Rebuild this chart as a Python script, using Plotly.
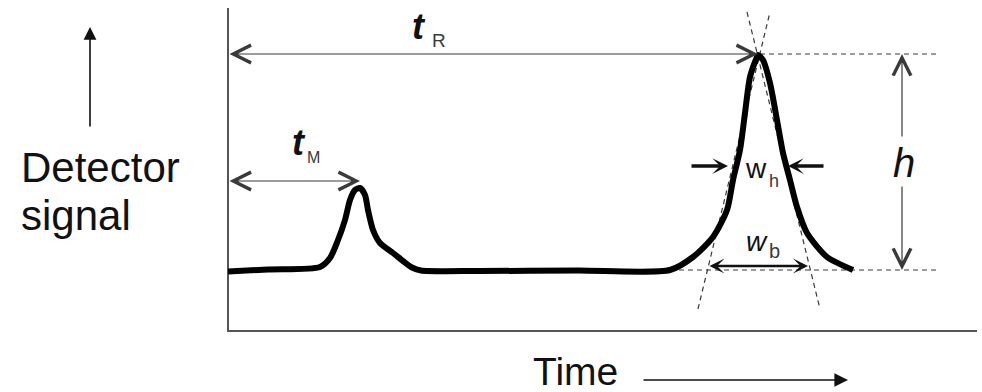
import plotly.graph_objects as go

# ---------------- data (time units / signal units, baseline = 0) ----------------
curve_time = [0.0, 4.0, 9.2, 10.2, 11.0, 11.7, 12.2, 12.7, 13.2, 13.7, 14.0, 14.5, 15.2,
              16.5, 17.5, 18.4, 19.3, 25.0, 35.0, 44.2,
              46.5, 48.5, 49.9, 50.5, 51.2, 51.7, 52.2, 52.9, 53.0, 53.5, 54.2, 54.9,
              55.5, 56.2, 56.9, 57.9, 59.9, 62.5]
curve_signal = [-0.15, 0.05, 0.3, 1.2, 3.0, 5.0, 7.0, 8.0, 8.2, 7.5, 6.0, 4.0, 2.7,
                1.7, 0.9, 0.25, -0.05, -0.1, -0.05, 0.0,
                1.3, 3.3, 6.0, 9.0, 12.0, 15.7, 19.3, 21.3, 21.5, 21.0, 18.7, 15.0,
                11.7, 9.0, 6.3, 3.7, 1.3, 0.0]

t_M = 13.2            # dead time (arrow tip)
t_M_arrow_y = 8.9
t_R = 53.0            # retention time
peak_h = 21.6         # peak height
w_h_y = 10.4          # half-height level
w_h_tips = [50.0, 56.0]
w_h_tails = [46.2, 59.7]
w_b_ends = [48.0, 58.0]
w_b_y = 0.4
tangent_left_x = [47.0, 54.2]
tangent_left_y = [-3.9, 25.8]
tangent_right_x = [51.9, 59.2]
tangent_right_y = [25.8, -3.9]
dash_start = [53.2, 44.2]
dash_levels = [peak_h, 0.0]
dash_end = 71.0
h_x = 67.4
h_gap = [13.2, 8.5]
axis_x = [0.0, 74.9]
axis_y = [-6.1, 26.2]
signal_arrow = [-13.8, 14.2, 24.3]   # x, tail y, head y
time_arrow = [41.4, 62.0, -11.0]     # tail x, head x, y

FONT = "Liberation Sans, Arial, Helvetica, sans-serif"
INK = "#111111"
GRAY = "#3a3a3a"

fig = go.Figure()

# axis frame
fig.add_trace(go.Scatter(x=[axis_x[0], axis_x[0], axis_x[1]], y=[axis_y[1], axis_y[0], axis_y[0]],
                         mode="lines", line=dict(color="#555555", width=2), hoverinfo="skip"))
# dashed reference lines
for xs, lv in zip(dash_start, dash_levels):
    fig.add_trace(go.Scatter(x=[xs, dash_end], y=[lv, lv], mode="lines",
                             line=dict(color=GRAY, width=1.2, dash="5px,4px"), hoverinfo="skip"))
# tangents
fig.add_trace(go.Scatter(x=tangent_left_x, y=tangent_left_y, mode="lines",
                         line=dict(color=GRAY, width=1.2, dash="5px,4px"), hoverinfo="skip"))
fig.add_trace(go.Scatter(x=tangent_right_x, y=tangent_right_y, mode="lines",
                         line=dict(color=GRAY, width=1.2, dash="5px,4px"), hoverinfo="skip"))
# chromatogram
fig.add_trace(go.Scatter(x=curve_time, y=curve_signal, mode="lines",
                         line=dict(color="#000000", width=6, shape="spline", smoothing=0.7),
                         hoverinfo="skip"))


def arrow(x0, y0, x1, y1, head, width, size, side="end", color=GRAY):
    return dict(x=x1, y=y1, ax=x0, ay=y0, xref="x", yref="y", axref="x", ayref="y",
                text="", showarrow=True, arrowhead=head, startarrowhead=head,
                arrowwidth=width, arrowsize=size, startarrowsize=size,
                arrowside=side, arrowcolor=color, standoff=0, startstandoff=0)


def label(x, y, text, size, color=INK, xanchor="left", yanchor="middle"):
    return dict(x=x, y=y, xref="x", yref="y", text=text, showarrow=False,
                xanchor=xanchor, yanchor=yanchor,
                font=dict(family=FONT, size=size, color=color))


ann = []
# t_R and t_M double arrows
ann.append(arrow(0.0, peak_h, t_R, peak_h, 5, 1.2, 2.9, "end+start"))
ann.append(arrow(0.0, t_M_arrow_y, t_M, t_M_arrow_y, 5, 1.2, 2.9, "end+start"))
# h arrows
ann.append(arrow(h_x, h_gap[0], h_x, peak_h, 5, 1.2, 2.9))
ann.append(arrow(h_x, h_gap[1], h_x, 0.0, 5, 1.2, 2.9))
# w_h arrows
ann.append(arrow(w_h_tails[0], w_h_y, w_h_tips[0], w_h_y, 3, 3.5, 0.75, color=INK))
ann.append(arrow(w_h_tails[1], w_h_y, w_h_tips[1], w_h_y, 3, 3.5, 0.75, color=INK))
# w_b double arrow
ann.append(arrow(w_b_ends[0], w_b_y, w_b_ends[1], w_b_y, 3, 2.5, 1.0, "end+start", color=INK))
# axis direction arrows
ann.append(arrow(signal_arrow[0], signal_arrow[1], signal_arrow[0], signal_arrow[2], 2, 1.6, 1.6, color=INK))
ann.append(arrow(time_arrow[0], time_arrow[2], time_arrow[1], time_arrow[2], 2, 1.6, 1.7, color=INK))

# text labels
ann.append(label(-20.9, 10.3, "Detector", 42))
ann.append(label(-20.9, 5.5, "signal", 42))
ann.append(label(30.3, -10.1, "Time", 39))
ann.append(label(18.2, 24.4, "<b><i>t</i></b>", 36))
ann.append(label(20.2, 23.0, "R", 19, GRAY))
ann.append(label(6.2, 12.8, "<b><i>t</i></b>", 36))
ann.append(label(7.7, 11.25, "M", 16, GRAY))
ann.append(label(67.6, 10.7, "<i>h</i>", 40, xanchor="center"))
ann.append(label(51.5, 10.2, "w", 28))
ann.append(label(53.9, 8.9, "h", 18, GRAY))
ann.append(label(51.6, 2.9, "<i>w</i>", 28))
ann.append(label(53.9, 1.9, "b", 20, GRAY))

fig.update_layout(
    width=982, height=392,
    margin=dict(l=0, r=0, t=0, b=0),
    paper_bgcolor="white", plot_bgcolor="white",
    showlegend=False,
    xaxis=dict(range=[-22.8, 75.4], visible=False, fixedrange=True),
    yaxis=dict(range=[-12.2, 27.0], visible=False, fixedrange=True),
    annotations=ann,
)

fig.write_html("out.html")
